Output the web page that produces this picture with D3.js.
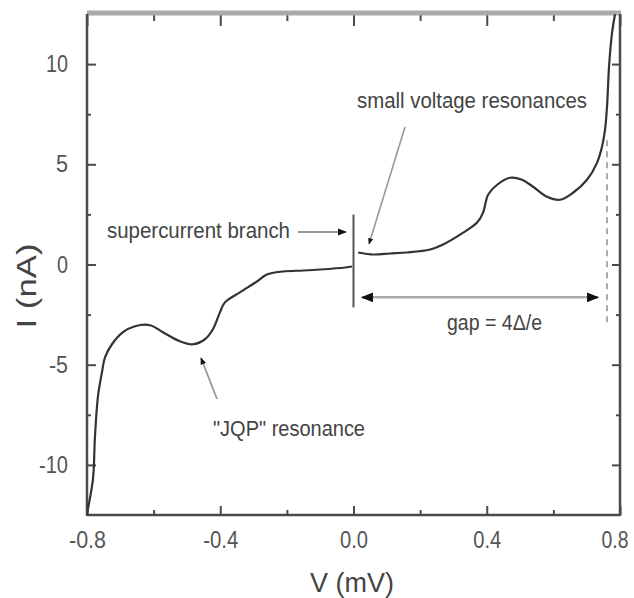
<!DOCTYPE html>
<html><head><meta charset="utf-8">
<script src="https://cdn.jsdelivr.net/npm/d3@7"></script>
<style>
html,body{margin:0;padding:0;background:#fff;}
text{font-family:"Liberation Sans",Arial,sans-serif;}
</style></head>
<body>
<svg id="chart" width="634" height="598"></svg>
<script>
// ---- data ----
const negV = [-0.800,-0.797,-0.782,-0.776,-0.767,-0.755,-0.746,-0.725,-0.692,-0.656,-0.611,-0.572,-0.521,-0.482,-0.446,-0.422,-0.401,-0.386,-0.341,-0.290,-0.260,-0.212,-0.150,-0.100,-0.025,-0.004];
const negI = [-12.5,-12.19,-10.70,-8.56,-6.57,-5.37,-4.63,-3.98,-3.38,-3.08,-3.03,-3.38,-3.83,-3.98,-3.73,-3.23,-2.39,-1.89,-1.39,-0.85,-0.50,-0.35,-0.30,-0.25,-0.15,-0.10];
const posV = [0.014,0.059,0.110,0.161,0.230,0.269,0.320,0.371,0.389,0.404,0.431,0.470,0.506,0.539,0.581,0.620,0.659,0.701,0.731,0.746,0.755,0.761,0.767,0.776,0.785];
const posI = [0.60,0.50,0.55,0.60,0.75,1.00,1.49,2.09,2.59,3.48,3.98,4.33,4.23,3.88,3.38,3.23,3.58,4.23,5.07,5.87,6.72,7.86,9.85,11.54,12.49];
const superV = [0, 0];
const superI = [2.49, -2.14];
const xTicks = [-0.8,-0.4,0.0,0.4,0.8];
const xTickLabels = ["-0.8","-0.4","0.0","0.4","0.8"];
const xMinor = [-0.6,-0.2,0.2,0.6];
const yTicks = [-10,-5,0,5,10];
const yTickLabels = ["-10","-5","0","5","10"];
const yMinor = [-7.5,-2.5,2.5,7.5];
const gapV = [0.026, 0.734];
const gapI = -1.64;
const gapDashV = 0.761;
const gapDashI = [6.2, -3.0];
const annotations = ["supercurrent branch","small voltage resonances","gap = 4\u0394/e","\"JQP\" resonance"];

// ---- layout ----
const W=634,H=598, m={l:87,r:14,t:14,b:83};
const svg=d3.select("#chart");
const x=d3.scaleLinear().domain([-0.8,0.8]).range([m.l,W-m.r]);
const y=d3.scaleLinear().domain([-12.5,12.5]).range([H-m.b,m.t]);
const axisCol="#4a4a4a";

const defs=svg.append("defs");
defs.append("clipPath").attr("id","clip").append("rect")
  .attr("x",m.l).attr("y",m.t).attr("width",W-m.l-m.r).attr("height",H-m.t-m.b);
defs.append("marker").attr("id","ah").attr("viewBox","0 0 10 10").attr("refX",9).attr("refY",5)
  .attr("markerWidth",4).attr("markerHeight",4).attr("orient","auto-start-reverse").attr("markerUnits","strokeWidth")
  .append("path").attr("d","M0,1 L10,5 L0,9 Z").attr("fill","#111");
defs.append("marker").attr("id","ah2").attr("viewBox","0 0 10 10").attr("refX",9).attr("refY",5)
  .attr("markerWidth",5).attr("markerHeight",5).attr("orient","auto-start-reverse").attr("markerUnits","strokeWidth")
  .append("path").attr("d","M0,1 L10,5 L0,9 Z").attr("fill","#111");

// axes (ticks inward)
function styleAxis(g){g.select(".domain").remove();g.selectAll("line").attr("stroke",axisCol).attr("stroke-width",2);}
svg.append("g").attr("transform",`translate(0,${H-m.b})`)
  .call(d3.axisBottom(x).tickValues(xTicks).tickSize(-9).tickFormat((d,i)=>xTickLabels[i]).tickPadding(16))
  .call(styleAxis)
  .call(g=>g.selectAll("text").attr("font-size",24).attr("fill","#555").attr("dy","0.71em")
     .attr("text-anchor",(d,i)=>i===4?"end":"middle")
     .attr("x",(d,i)=>i===4?8:0)
     .attr("textLength",(d,i)=>[37,35,28,28,27][i]).attr("lengthAdjust","spacingAndGlyphs"));
svg.append("g").attr("transform",`translate(0,${H-m.b})`)
  .call(d3.axisBottom(x).tickValues(xMinor).tickSize(-5).tickFormat("")).call(styleAxis);
svg.append("g").attr("transform",`translate(0,${m.t})`)
  .call(d3.axisTop(x).tickValues(xTicks).tickSize(-12).tickFormat("")).call(styleAxis);
svg.append("g").attr("transform",`translate(0,${m.t})`)
  .call(d3.axisTop(x).tickValues(xMinor).tickSize(-7).tickFormat("")).call(styleAxis);
svg.append("g").attr("transform",`translate(${m.l},0)`)
  .call(d3.axisLeft(y).tickValues(yTicks).tickSize(-9).tickFormat((d,i)=>yTickLabels[i]).tickPadding(19))
  .call(styleAxis)
  .call(g=>g.selectAll("text").attr("font-size",24).attr("fill","#555")
     .attr("textLength",(d,i)=>[29,19,11,12,22][i]).attr("lengthAdjust","spacingAndGlyphs"));
svg.append("g").attr("transform",`translate(${m.l},0)`)
  .call(d3.axisLeft(y).tickValues(yMinor).tickSize(-4).tickFormat("")).call(styleAxis);
svg.append("g").attr("transform",`translate(${W-m.r},0)`)
  .call(d3.axisRight(y).tickValues(yTicks).tickSize(-8).tickFormat("")).call(styleAxis);
svg.append("g").attr("transform",`translate(${W-m.r},0)`)
  .call(d3.axisRight(y).tickValues(yMinor).tickSize(-4).tickFormat("")).call(styleAxis);

// frame
svg.append("line").attr("x1",m.l).attr("x2",W-m.r+1).attr("y1",m.t-1).attr("y2",m.t-1).attr("stroke","#aaa").attr("stroke-width",5);
svg.append("line").attr("x1",m.l).attr("x2",m.l).attr("y1",m.t).attr("y2",H-m.b+1).attr("stroke",axisCol).attr("stroke-width",2.5);
svg.append("line").attr("x1",m.l).attr("x2",W-m.r).attr("y1",H-m.b).attr("y2",H-m.b).attr("stroke",axisCol).attr("stroke-width",2.5);
svg.append("line").attr("x1",W-m.r).attr("x2",W-m.r).attr("y1",m.t).attr("y2",H-m.b+1).attr("stroke",axisCol).attr("stroke-width",2.5);

// axis titles
svg.append("text").attr("x",352).attr("y",592).attr("text-anchor","middle").attr("font-size",27).attr("fill","#444")
  .attr("textLength",84).attr("lengthAdjust","spacingAndGlyphs").text("V (mV)");
svg.append("text").attr("transform","translate(36,286) rotate(-90)").attr("text-anchor","middle").attr("font-size",27).attr("fill","#444")
  .attr("textLength",85).attr("lengthAdjust","spacingAndGlyphs").text("I (nA)");

// curves
const line=d3.line().x(d=>x(d[0])).y(d=>y(d[1])).curve(d3.curveCatmullRom.alpha(0.5));
const plot=svg.append("g").attr("clip-path","url(#clip)");
plot.append("path").datum(negV.map((v,i)=>[v,negI[i]])).attr("d",line).attr("fill","none").attr("stroke","#333").attr("stroke-width",2.2);
plot.append("path").datum(posV.map((v,i)=>[v,posI[i]])).attr("d",line).attr("fill","none").attr("stroke","#333").attr("stroke-width",2.2);
svg.append("line").attr("x1",x(superV[0])).attr("x2",x(superV[1])).attr("y1",y(superI[0])).attr("y2",y(superI[1]))
  .attr("stroke","#555").attr("stroke-width",2);

// gap arrow + dashed line
svg.append("line").attr("x1",x(gapV[0])).attr("x2",x(gapV[1])).attr("y1",y(gapI)).attr("y2",y(gapI))
  .attr("stroke","#aaa").attr("stroke-width",2.5).attr("marker-start","url(#ah2)").attr("marker-end","url(#ah2)");
svg.append("line").attr("x1",x(gapDashV)).attr("x2",x(gapDashV)).attr("y1",y(gapDashI[0])).attr("y2",y(gapDashI[1]))
  .attr("stroke","#aaa").attr("stroke-width",2).attr("stroke-dasharray","6,5");

// annotation arrows
function arrow(x1,y1,x2,y2,w){svg.append("line").attr("x1",x1).attr("y1",y1).attr("x2",x2).attr("y2",y2)
  .attr("stroke","#999").attr("stroke-width",w||1.8).attr("marker-end","url(#ah)");}
arrow(298,232,346,232,2.2);
arrow(405,127,369,244,1.6);
arrow(217,399,201,358,1.8);

// annotation texts
function label(t,xx,yy,len){svg.append("text").attr("x",xx).attr("y",yy).attr("font-size",22).attr("fill","#444")
  .attr("textLength",len).attr("lengthAdjust","spacingAndGlyphs").text(t);}
label(annotations[0],107,238,183);
label(annotations[1],357,108,230);
label(annotations[2],447,330,95);
label(annotations[3],213,436,152);
</script>
</body></html>
